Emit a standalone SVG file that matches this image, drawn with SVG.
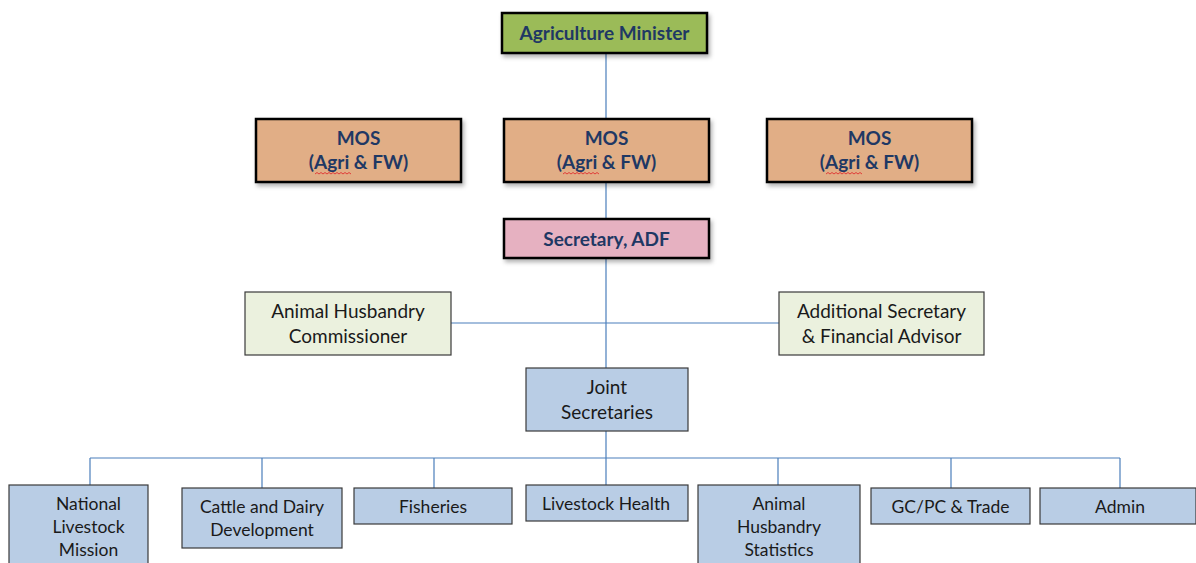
<svg xmlns="http://www.w3.org/2000/svg" width="1196" height="563" viewBox="0 0 1196 563">
  <defs>
    <filter id="shadow" x="-10%" y="-20%" width="125%" height="150%">
      <feDropShadow dx="2" dy="3" stdDeviation="2" flood-color="#000" flood-opacity="0.3"/>
    </filter>
    <path id="wave" d="M0 0 l2 -1.5 l2 1.5 l2 -1.5 l2 1.5 l2 -1.5 l2 1.5 l2 -1.5 l2 1.5 l2 -1.5 l2 1.5 l2 -1.5 l2 1.5 l2 -1.5 l2 1.5 l2 -1.5 l2 1.5 l2 -1.5 l2 1.5"/>
    <style>
      .lead rect { stroke: #000; stroke-width: 2.5; filter: url(#shadow); }
      .lead text { font-family: Lato, "Open Sans", sans-serif; font-weight: bold; font-size: 19px; fill: #1F3864; text-anchor: middle; }
      .unit rect { stroke: #3a3a3a; stroke-width: 1.2; }
      .unit text { font-family: Lato, "Open Sans", sans-serif; font-size: 19px; fill: #1a1a1a; text-anchor: middle; }
      .dept rect { fill: #B9CDE5; stroke: #3a3a3a; stroke-width: 1.2; }
      .dept text { font-family: Lato, "Open Sans", sans-serif; font-size: 17.5px; fill: #1a1a1a; text-anchor: middle; }
      .mos rect { fill: #E1AE86; }
      .squiggle { fill: none; stroke: #E03030; stroke-width: 0.9; }
      #connectors line { stroke: #4A7EBB; stroke-width: 1.2; }
    </style>
  </defs>
  <rect width="1196" height="563" fill="#fff"/>

  <!-- connectors -->
  <g id="connectors">
    <line x1="606" y1="53" x2="606" y2="119"/>
    <line x1="606" y1="182" x2="606" y2="219"/>
    <line x1="606" y1="258" x2="606" y2="368"/>
    <line x1="451" y1="323" x2="779" y2="323"/>
    <line x1="606" y1="431" x2="606" y2="458"/>
    <line x1="90" y1="458" x2="1120" y2="458"/>
    <line x1="90" y1="458" x2="90" y2="485"/>
    <line x1="262" y1="458" x2="262" y2="488"/>
    <line x1="434" y1="458" x2="434" y2="488"/>
    <line x1="606" y1="458" x2="606" y2="485"/>
    <line x1="778" y1="458" x2="778" y2="485"/>
    <line x1="951" y1="458" x2="951" y2="488"/>
    <line x1="1120" y1="458" x2="1120" y2="488"/>
  </g>

  <g id="minister" class="lead">
    <rect x="502" y="13" width="205" height="40" fill="#9BBB59"/>
    <text x="604.5" y="40">Agriculture Minister</text>
  </g>

  <g id="mos-left" class="lead mos">
    <rect x="256" y="119" width="205" height="63"/>
    <text x="358.5" y="145">MOS</text>
    <text x="358.5" y="169">(Agri &amp; FW)</text>
    <use href="#wave" class="squiggle" x="315" y="174"/>
  </g>

  <g id="mos-centre" class="lead mos">
    <rect x="504" y="119" width="205" height="63"/>
    <text x="606.5" y="145">MOS</text>
    <text x="606.5" y="169">(Agri &amp; FW)</text>
    <use href="#wave" class="squiggle" x="563" y="174"/>
  </g>

  <g id="mos-right" class="lead mos">
    <rect x="767" y="119" width="205" height="63"/>
    <text x="869.5" y="145">MOS</text>
    <text x="869.5" y="169">(Agri &amp; FW)</text>
    <use href="#wave" class="squiggle" x="826" y="174"/>
  </g>

  <g id="secretary" class="lead">
    <rect x="504" y="219" width="205" height="39" fill="#E6B1C1"/>
    <text x="606.5" y="246">Secretary, ADF</text>
  </g>

  <g id="ah-commissioner" class="unit">
    <rect x="245" y="292" width="206" height="63" fill="#EBF1DE"/>
    <text x="348" y="318">Animal Husbandry</text>
    <text x="348" y="343">Commissioner</text>
  </g>

  <g id="addl-secretary" class="unit">
    <rect x="779" y="292" width="205" height="63" fill="#EBF1DE"/>
    <text x="881.5" y="318">Additional Secretary</text>
    <text x="881.5" y="343">&amp; Financial Advisor</text>
  </g>

  <g id="joint-secretaries" class="unit">
    <rect x="526" y="368" width="162" height="63" fill="#B9CDE5"/>
    <text x="607" y="394">Joint</text>
    <text x="607" y="419">Secretaries</text>
  </g>

  <g id="nlm" class="dept">
    <rect x="9" y="485" width="139" height="85"/>
    <text x="88.5" y="510">National</text>
    <text x="88.5" y="533">Livestock</text>
    <text x="88.5" y="556">Mission</text>
  </g>

  <g id="cattle-dairy" class="dept">
    <rect x="182" y="488" width="160" height="60"/>
    <text x="262" y="513">Cattle and Dairy</text>
    <text x="262" y="536">Development</text>
  </g>

  <g id="fisheries" class="dept">
    <rect x="354" y="488" width="158" height="36"/>
    <text x="433" y="513">Fisheries</text>
  </g>

  <g id="livestock-health" class="dept">
    <rect x="526" y="485" width="162" height="36"/>
    <text x="606" y="510">Livestock Health</text>
  </g>

  <g id="ah-statistics" class="dept">
    <rect x="698" y="485" width="162" height="85"/>
    <text x="779" y="510">Animal</text>
    <text x="779" y="533">Husbandry</text>
    <text x="779" y="556">Statistics</text>
  </g>

  <g id="gc-pc-trade" class="dept">
    <rect x="871" y="488" width="159" height="36"/>
    <text x="950.5" y="513">GC/PC &amp; Trade</text>
  </g>

  <g id="admin" class="dept">
    <rect x="1040" y="488" width="156" height="36"/>
    <text x="1120" y="513">Admin</text>
  </g>
</svg>
